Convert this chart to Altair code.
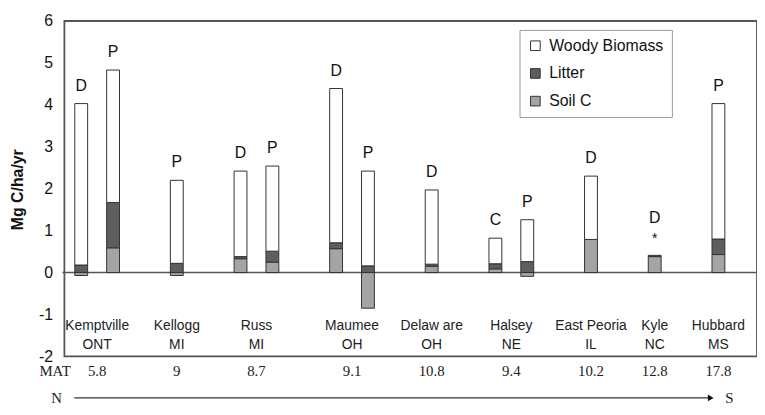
import altair as alt

# ---------------- data ----------------
sites = ["Kemptville", "Kellogg", "Russ", "Maumee", "Delaw are", "Halsey", "East Peoria", "Kyle", "Hubbard"]
states = ["ONT", "MI", "MI", "OH", "OH", "NE", "IL", "NC", "MS"]
mat = ["5.8", "9", "8.7", "9.1", "10.8", "9.4", "10.2", "12.8", "17.8"]
treatments = [["D", "P"], ["P"], ["D", "P"], ["D", "P"], ["D"], ["C", "P"], ["D"], ["D"], ["P"]]
bar_notes = ["", "", "", "", "", "", "", "", "", "", "", "*", ""]

woody = [3.85, 3.16, 1.98, 2.04, 2.03, 3.68, 2.26, 1.77, 0.61, 1.00, 1.51, 0.00, 3.23]
litter = [0.18, 1.08, 0.22, 0.05, 0.26, 0.14, 0.16, 0.05, 0.12, 0.26, 0.00, 0.03, 0.37]
soil = [-0.07, 0.59, -0.07, 0.33, 0.25, 0.57, -0.85, 0.15, 0.09, -0.09, 0.79, 0.38, 0.43]

components = ["Woody Biomass", "Litter", "Soil C"]
comp_colors = ["#ffffff", "#5e5e5e", "#a4a4a4"]
y_ticks = [-2, -1, 0, 1, 2, 3, 4, 5, 6]

# ---------------- build tables ----------------
segs, bars, site_rows = [], [], []
slot, k = 0, 0
for i, site in enumerate(sites):
    slots = []
    for t in treatments[i]:
        slots.append(slot)
        vals = {"Soil C": soil[k], "Litter": litter[k], "Woody Biomass": woody[k]}
        pos, neg = 0.0, 0.0
        for comp in ["Soil C", "Litter", "Woody Biomass"]:
            v = vals[comp]
            if v > 0:
                segs.append({"slot": slot, "comp": comp, "y0": pos, "y1": pos + v})
                pos += v
            elif v < 0:
                segs.append({"slot": slot, "comp": comp, "y0": neg + v, "y1": neg})
                neg += v
        bars.append({"slot": slot, "top": pos, "label": t, "note": bar_notes[k]})
        slot += 1
        k += 1
    site_rows.append({"x": sum(slots) / len(slots), "site": site, "state": states[i], "mat": mat[i]})
    slot += 1

# ---------------- layout ----------------
# the plot area is the framed box (y from -2 to 6); rows below it are drawn outside
W, H = 700, 339
XD = [-0.528, 21.211]
YD = [-2, 6]
xs = alt.Scale(domain=XD, nice=False, zero=False, padding=0)
ys = alt.Scale(domain=YD, nice=False, zero=False, padding=0)
SANS = "Liberation Sans"
SERIF = "Liberation Serif"
LINE = "#555555"

y_axis = alt.Axis(
    values=y_ticks, grid=False, domain=False, ticks=False,
    labelExpr="'' + datum.value",
    labelFont=SANS, labelFontSize=16, labelColor="#111111", labelPadding=12,
    title="Mg C/ha/yr", titleFont=SANS, titleFontSize=16, titleFontWeight="bold",
    titleColor="#111111", titleAngle=270, titleX=-47, titleY=170,
    titleAlign="center", titleBaseline="middle",
)

def X(field):
    return alt.X(field, type="quantitative", scale=xs, axis=None)

def Y(field):
    return alt.Y(field, type="quantitative", scale=ys, axis=y_axis)

zero = alt.Chart(alt.Data(values=[{"c": 0.0}])).mark_rule(
    color="#555555", strokeWidth=1.5
).encode(x=alt.value(-2), x2=alt.value(W), y=Y("c"))

bar_layer = alt.Chart(alt.Data(values=segs)).mark_bar(
    size=13, stroke="#333333", strokeWidth=1
).encode(
    x=X("slot"),
    y=Y("y0"),
    y2="y1:Q",
    fill=alt.Fill("comp:N", scale=alt.Scale(domain=components, range=comp_colors),
                  legend=alt.Legend(
                      orient="none", legendX=460, legendY=9, title=None,
                      symbolType="square", symbolSize=95, symbolStrokeColor="#333333",
                      symbolStrokeWidth=1, labelFont=SANS, labelFontSize=16,
                      labelColor="#111111", rowPadding=12, padding=8, labelOffset=6,
                      strokeColor="#9a9a9a", fillColor="white",
                  )),
)

bars_data = alt.Data(values=bars)
letters_plain = alt.Chart(bars_data).transform_filter("datum.note == ''").mark_text(
    baseline="bottom", dy=-10, font=SANS, fontSize=16, color="#111111"
).encode(x=X("slot"), y=Y("top"), text="label:N")

letters_noted = alt.Chart(bars_data).transform_filter("datum.note != ''").mark_text(
    baseline="bottom", dy=-30, font=SANS, fontSize=16, color="#111111"
).encode(x=X("slot"), y=Y("top"), text="label:N")

notes_txt = alt.Chart(bars_data).transform_filter("datum.note != ''").mark_text(
    baseline="bottom", dy=-9, font=SANS, fontSize=14, color="#111111"
).encode(x=X("slot"), y=Y("top"), text="note:N")

site_txt = alt.Chart(alt.Data(values=site_rows)).transform_calculate(yy="-1.268").mark_text(
    font=SANS, fontSize=14, baseline="middle", color="#222222"
).encode(x=X("x"), y=Y("yy"), text="site:N")

state_txt = alt.Chart(alt.Data(values=site_rows)).transform_calculate(yy="-1.717").mark_text(
    font=SANS, fontSize=14, baseline="middle", color="#222222"
).encode(x=X("x"), y=Y("yy"), text="state:N")

mat_txt = alt.Chart(alt.Data(values=site_rows)).transform_calculate(yy="-2.354").mark_text(
    font=SERIF, fontSize=15, baseline="middle", color="#222222"
).encode(x=X("x"), y=Y("yy"), text="mat:N")

mat_head = alt.Chart(alt.Data(values=[{"t": "MAT", "x": -0.82, "y": -2.354}])).mark_text(
    font=SERIF, fontSize=15, baseline="middle", color="#222222"
).encode(x=X("x"), y=Y("y"), text="t:N")

ARROW_Y = -2.99
ns_txt = alt.Chart(alt.Data(values=[{"t": "N", "x": -0.776, "y": ARROW_Y},
                                    {"t": "S", "x": 20.34, "y": ARROW_Y}])).mark_text(
    font=SERIF, fontSize=15, baseline="middle", color="#222222"
).encode(x=X("x"), y=Y("y"), text="t:N")

arrow_line = alt.Chart(alt.Data(values=[{"a": -0.217, "b": 19.72, "c": ARROW_Y}])).mark_rule(
    color="#333333", strokeWidth=1.2
).encode(x=X("a"), x2="b:Q", y=Y("c"))

arrow_head = alt.Chart(alt.Data(values=[{"a": 19.76, "c": ARROW_Y}])).mark_point(
    shape="triangle-right", filled=True, size=45, color="#111111", opacity=1
).encode(x=X("a"), y=Y("c"))

chart = alt.layer(
    zero, bar_layer, letters_plain, letters_noted,
    notes_txt, site_txt, state_txt, mat_txt, mat_head, arrow_line, arrow_head, ns_txt
).properties(
    width=W, height=H,
    autosize=alt.AutoSizeParams(type="none"),
    padding={"left": 57, "top": 11, "right": 0, "bottom": 49},
    background="white",
).configure_view(stroke=LINE, strokeWidth=1.8)

chart.save("out.html", embed_options={"renderer": "svg", "actions": False})
